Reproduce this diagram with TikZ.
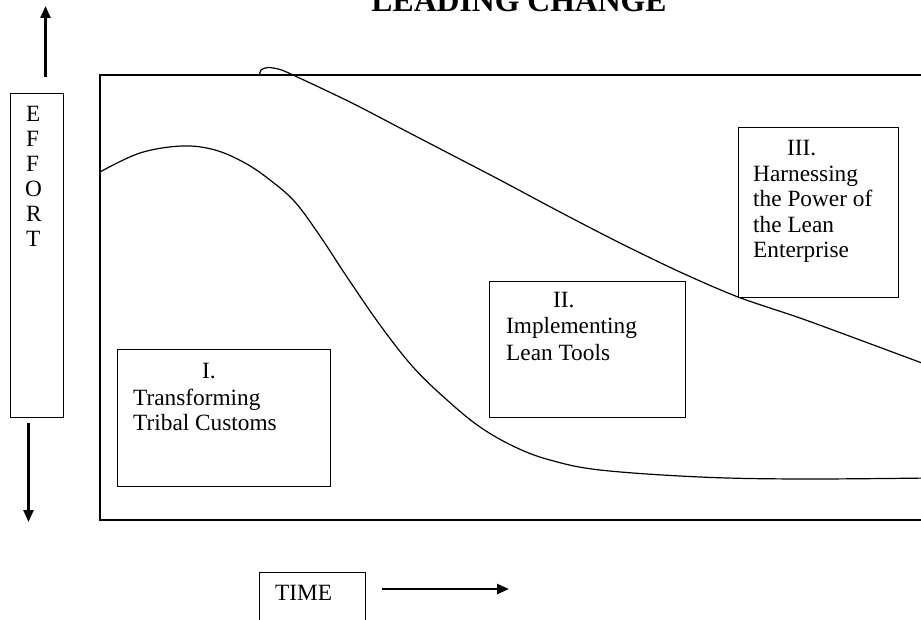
\documentclass[tikz,border=0pt]{standalone}
\usepackage{fontspec}
\setmainfont{Liberation Serif}
\usetikzlibrary{arrows.meta}
\tikzset{
  boxline/.style={draw, line width=1.2pt},
  txt/.style={inner sep=0pt, anchor=base west, font=\fontsize{23.3}{25.5}\selectfont},
  curveline/.style={line width=1.2pt, line join=round, line cap=round},
  bigarrow/.style={line width=2.4pt, -{Triangle[length=12pt,width=10pt]}}
}
\begin{document}
\begin{tikzpicture}[x=1pt,y=-1pt]
\useasboundingbox (0,0) rectangle (921,620);
\clip (0,0) rectangle (921,620);
\fill[white] (0,0) rectangle (921,620);
% title
\node[inner sep=0pt, anchor=base, font=\fontsize{31.7}{34}\selectfont\bfseries] (title) at (519,12) {LEADING CHANGE};
% effort axis
\coordinate (upS) at (45.5,77);
\coordinate (upE) at (45.5,6);
\draw[bigarrow] (upS) -- (upE);
\node[boxline, inner sep=0pt, minimum width=53pt, minimum height=324pt, anchor=north west] (effort) at (10,93) {};
\node[txt] (e1) at (26,122) {E};
\node[txt] (e2) at (26,147) {F};
\node[txt] (e3) at (26,172) {F};
\node[txt] (e4) at (25,197) {O};
\node[txt] (e5) at (26,222) {R};
\node[txt] (e6) at (26,247) {T};
\coordinate (dnS) at (28.5,423);
\coordinate (dnE) at (28.5,522);
\draw[bigarrow] (dnS) -- (dnE);
% main frame (open to the right)
\coordinate (frTR) at (940,75);
\coordinate (frTL) at (100,75);
\coordinate (frBL) at (100,520);
\coordinate (frBR) at (940,520);
\draw[line width=1.3pt] (frTR) -- (frTL) -- (frBL) -- (frBR);
% curve 1
\draw[curveline] plot[smooth, tension=0.6] coordinates {(100,172) (140,153) (182,146) (215,150) (245,163) (270,180) (295,202) (320,236) (347,277) (380,325) (413,367) (447,400) (480,427) (515,447) (550,460) (600,470) (700,477) (800,479) (930,478)};
% curve 2
\draw[curveline] plot[smooth, tension=0.5] coordinates {(259.5,75) (261,70) (268,67.5) (280,69.5) (293,75) (350,102) (400,128) (450,154) (500,180) (560,212) (620,243) (680,272) (738,297) (800,318) (860,340) (930,366)};
% box I
\node[boxline, fill=white, inner sep=0pt, minimum width=213pt, minimum height=137pt, anchor=north west] (boxI) at (117,349) {};
\node[txt] (boxIh) at (202,378) {I.};
\node[txt] (boxIa) at (133,405) {Transforming};
\node[txt] (boxIb) at (133,430) {Tribal Customs};
% box II
\node[boxline, fill=white, inner sep=0pt, minimum width=196pt, minimum height=136pt, anchor=north west] (boxII) at (489,281) {};
\node[txt] (boxIIh) at (553,308) {II.};
\node[txt] (boxIIa) at (506,334) {Implementing};
\node[txt] (boxIIb) at (506,360) {Lean Tools};
% box III
\node[boxline, fill=white, inner sep=0pt, minimum width=160pt, minimum height=170pt, anchor=north west] (boxIII) at (738,127) {};
\node[txt] (boxIIIh) at (787,156) {III.};
\node[txt] (boxIIIa) at (753,182) {Harnessing};
\node[txt] (boxIIIb) at (753,207) {the Power of};
\node[txt] (boxIIIc) at (753,232.5) {the Lean};
\node[txt] (boxIIId) at (753,258) {Enterprise};
% time axis
\node[boxline, inner sep=0pt, minimum width=106pt, minimum height=80pt, anchor=north west] (timebox) at (259,572) {};
\node[txt] (timetxt) at (275,600) {TIME};
\coordinate (tS) at (382,589);
\coordinate (tE) at (509,589);
\draw[bigarrow] (tS) -- (tE);
\end{tikzpicture}
\end{document}
